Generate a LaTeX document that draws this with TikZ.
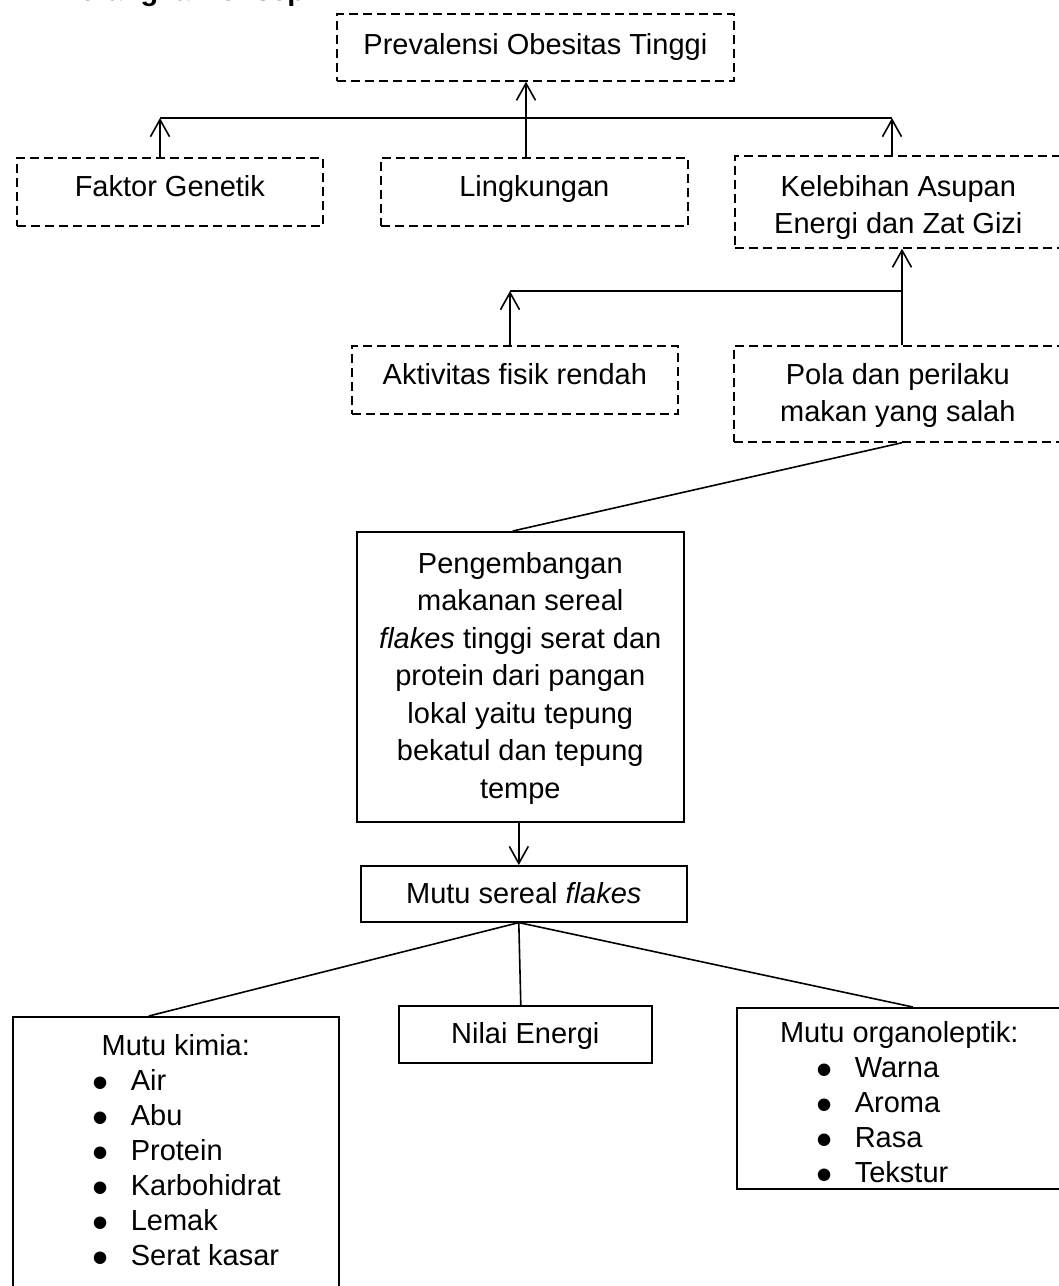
\documentclass[tikz,border=0pt]{standalone}
\usepackage{fontspec}
\setmainfont{Liberation Sans}
\usetikzlibrary{arrows.meta}
\newcommand\bulitem[1]{\par\hspace*{80pt}\makebox[38pt][l]{\smash{\raisebox{-8pt}{\fontsize{46}{46}\selectfont\textbullet}}}#1}
\newcommand\bx[4]{\parbox[c][#1][t]{#2}{\vspace*{#3}\centering #4\par}}
\begin{document}
\begin{tikzpicture}[x=1pt,y=-1pt,
  font=\fontsize{29}{37.5}\selectfont,
  dbox/.style={draw, line width=1.7pt, dash pattern=on 9pt off 5pt, inner sep=0pt, anchor=north west},
  sbox/.style={draw, line width=1.6pt, inner sep=0pt, anchor=north west},
  conn/.style={line width=1.6pt},
  arr/.style={conn, -{Straight Barb[length=17pt,width=19pt]}}]
\useasboundingbox (0,0) rectangle (1059,1286);
\node[anchor=base west, font=\fontsize{29}{37.5}\selectfont\bfseries] (judul) at (55,0.5) {Kerangka Konsep};

\node[dbox] (top) at (336,13) {\bx{67pt}{397pt}{19.4pt}{Prevalensi Obesitas Tinggi}};
\node[dbox] (fak) at (16,157) {\bx{68pt}{306pt}{17.4pt}{Faktor Genetik}};
\node[dbox] (ling) at (380,157) {\bx{68pt}{307pt}{17.4pt}{Lingkungan}};
\node[dbox] (kel) at (734,155) {\bx{92pt}{327pt}{19.4pt}{Kelebihan Asupan\\Energi dan Zat Gizi}};
\node[dbox] (akt) at (351,345) {\bx{68pt}{326pt}{17.4pt}{Aktivitas fisik rendah}};
\node[dbox] (pola) at (733,345) {\bx{96pt}{328pt}{17.4pt}{Pola dan perilaku\\makan yang salah}};
\node[sbox] (peng) at (356,531) {\bx{290pt}{327pt}{20.4pt}{Pengembangan\\makanan sereal\\\textit{flakes} tinggi serat dan\\protein dari pangan\\lokal yaitu tepung\\bekatul dan tepung\\tempe}};
\node[sbox] (mutu) at (360,865) {\bx{56pt}{326pt}{16.4pt}{Mutu sereal \textit{flakes}}};
\node[sbox] (nilai) at (398,1005) {\bx{57pt}{253pt}{16.4pt}{Nilai Energi}};
\node[sbox] (kimia) at (12,1016) {\parbox[c][284pt][t]{326pt}{\fontsize{29}{35}\selectfont\vspace*{17.4pt}\centering Mutu kimia:\par\raggedright
  \bulitem{Air}\bulitem{Abu}\bulitem{Protein}\bulitem{Karbohidrat}\bulitem{Lemak}\bulitem{Serat kasar}}};
\node[sbox] (org) at (736,1007) {\parbox[c][181pt][t]{325pt}{\fontsize{29}{35}\selectfont\vspace*{13.4pt}\centering Mutu organoleptik:\par\raggedright
  \bulitem{Warna}\bulitem{Aroma}\bulitem{Rasa}\bulitem{Tekstur}}};

\coordinate (j1) at (160,118);
\coordinate (j2) at (892,118);
\coordinate (j3) at (526,118);
\draw[conn] (j1) -- (j2);
\draw[arr] (fak.north -| j1) -- (j1);
\draw[arr] (kel.north -| j2) -- (j2);
\draw[arr] (ling.north -| j3) -- (top.south -| j3);

\coordinate (k1) at (510,291);
\coordinate (k2) at (902,291);
\draw[conn] (k1) -- (k2);
\draw[arr] (akt.north -| k1) -- (k1);
\draw[arr] (pola.north -| k2) -- (kel.south -| k2);
\draw[conn] (pola.south -| k2) -- ([xshift=-7.5pt]peng.north);
\draw[arr] ([xshift=-1.5pt]peng.south) -- ([xshift=-1.5pt]peng.south |- mutu.north);
\coordinate (m) at ([xshift=-5pt]mutu.south);
\draw[conn] (m) -- ([xshift=-27pt]kimia.north);
\draw[conn] (m) -- ([xshift=-4.5pt]nilai.north);
\draw[conn] (m) -- ([xshift=13.5pt]org.north);
\end{tikzpicture}
\end{document}
